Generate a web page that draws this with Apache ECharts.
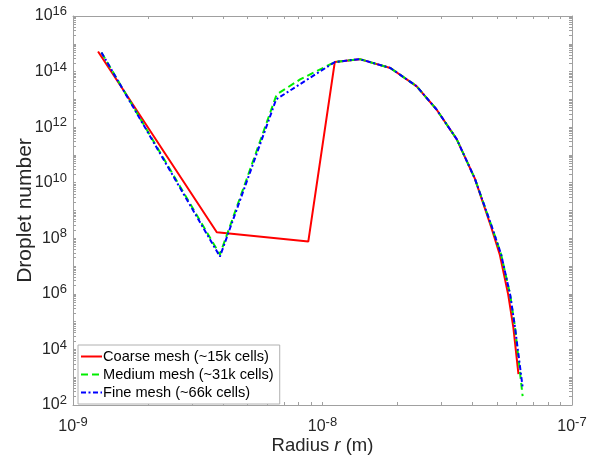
<!DOCTYPE html>
<html>
<head>
<meta charset="utf-8">
<script src="https://cdn.jsdelivr.net/npm/echarts@6/dist/echarts.min.js"></script>
<style>
html,body{margin:0;padding:0;background:#fff;}
#c{width:592px;height:460px;}
</style>
</head>
<body>
<div id="c"></div>
<script>
// ---- data ----
const seriesNames = ['Coarse mesh (~15k cells)', 'Medium mesh (~31k cells)', 'Fine mesh (~66k cells)'];

const coarseR = [1.26e-9, 3.77e-9, 8.77e-9, 1.12e-8, 1.41e-8, 1.87e-8, 2.38e-8, 2.86e-8, 3.45e-8, 4.08e-8, 4.76e-8, 5.14e-8, 5.55e-8, 5.82e-8, 6.10e-8];
const coarseN = [5.3e14, 1.64e8, 7.6e7, 2.2e14, 2.8e14, 1.35e14, 3.0e13, 4.4e12, 3.7e11, 1.4e10, 2.3e8, 2.5e7, 9.4e5, 6.2e4, 1.3e3];

const mediumR = [1.30e-9, 3.88e-9, 6.55e-9, 8.13e-9, 1.12e-8, 1.41e-8, 1.87e-8, 2.38e-8, 2.86e-8, 3.45e-8, 4.08e-8, 4.78e-8, 5.20e-8, 5.65e-8, 5.91e-8, 6.34e-8];
const mediumN = [4.9e14, 2.6e7, 1.5e13, 5.2e13, 2.2e14, 2.8e14, 1.35e14, 3.0e13, 4.4e12, 3.7e11, 1.4e10, 2.5e8, 2.6e7, 9.4e5, 6.2e4, 2.1e2];

const fineR = [1.30e-9, 3.88e-9, 6.52e-9, 1.12e-8, 1.41e-8, 1.87e-8, 2.38e-8, 2.86e-8, 3.45e-8, 4.08e-8, 4.78e-8, 5.20e-8, 5.65e-8, 5.91e-8, 6.34e-8];
const fineN = [4.9e14, 2.2e7, 1.0e13, 2.2e14, 2.8e14, 1.35e14, 3.0e13, 4.4e12, 3.7e11, 1.4e10, 2.5e8, 2.6e7, 9.4e5, 6.2e4, 4.4e2];

const xLabelVals = [1e-9, 1e-8, 1e-7];
const yLabelVals = [1e2, 1e4, 1e6, 1e8, 1e10, 1e12, 1e14, 1e16];
const tickMults = [1, 2, 3, 4, 5, 6, 7, 8, 9];

// ---- build ----
function pairs(xs, ys) { return xs.map((x, i) => [x, ys[i]]); }
const xTicks = [];
[-9, -8].forEach(e => tickMults.forEach(m => xTicks.push(+(m * Math.pow(10, e)).toPrecision(3))));
xTicks.push(1e-7);
const yTicks = [];
for (let e = 2; e < 16; e++) tickMults.forEach(m => yTicks.push(+(m * Math.pow(10, e)).toPrecision(3)));
yTicks.push(1e16);

const FONT = 'Liberation Sans, Arial, sans-serif';
const AX = '#a0a0a0';
const TXT = '#262626';
const supRich = {
  b: { fontSize: 16, color: TXT, fontFamily: FONT },
  s: { fontSize: 13, color: TXT, fontFamily: FONT, padding: [0, 0, 9, 0] }
};
function supFmt(v) {
  const e = Math.round(Math.log10(v));
  return '{b|10}{s|' + e + '}';
}
function xAx(pos, labels) {
  return {
    type: 'log', logBase: 10, min: 1e-9, max: 1e-7, position: pos,
    axisLine: { show: true, onZero: false, lineStyle: { color: AX, width: 1 } },
    axisTick: { show: true, inside: true, length: 3, customValues: xTicks, lineStyle: { color: AX } },
    axisLabel: labels ? { show: true, fontSize: 16, customValues: xLabelVals, formatter: supFmt, rich: supRich, margin: 11 } : { show: false },
    splitLine: { show: false },
    minorTick: { show: false },
    name: labels ? '{n|Radius }{i|r}{n| (m)}' : '',
    nameLocation: 'middle', nameGap: 31, nameMoveOverlap: false,
    nameTextStyle: { rich: { n: { fontSize: 18.5, color: TXT, fontFamily: FONT }, i: { fontSize: 18.5, color: TXT, fontFamily: FONT, fontStyle: 'italic' } } }
  };
}
function yAx(pos, labels) {
  return {
    type: 'log', logBase: 10, min: 1e2, max: 1e16, position: pos,
    axisLine: { show: true, onZero: false, lineStyle: { color: AX, width: 1 } },
    axisTick: { show: true, inside: true, length: 3, customValues: yTicks, lineStyle: { color: AX } },
    axisLabel: labels ? { show: true, fontSize: 16, customValues: yLabelVals, formatter: supFmt, rich: supRich, margin: 6 } : { show: false },
    splitLine: { show: false },
    minorTick: { show: false },
    name: labels ? 'Droplet number' : '',
    nameLocation: 'middle', nameGap: 37, nameRotate: 90, nameMoveOverlap: false,
    nameTextStyle: { fontSize: 21, color: TXT, fontFamily: FONT }
  };
}

const chart = echarts.init(document.getElementById('c'), null, { renderer: 'canvas' });
chart.setOption({
  animation: false,
  backgroundColor: '#fff',
  textStyle: { fontFamily: FONT },
  grid: { left: 73, right: 20, top: 16, bottom: 52, containLabel: false },
  xAxis: [xAx('bottom', true), xAx('top', false)],
  yAxis: [yAx('left', true), yAx('right', false)],
  legend: {
    orient: 'vertical', left: 78, top: 345,
    data: seriesNames,
    backgroundColor: '#fff', borderColor: '#b0b0b0', borderWidth: 1,
    padding: [4, 6, 4, 2], itemGap: 3, itemWidth: 21, itemHeight: 12,
    itemStyle: { opacity: 0 },
    textStyle: { fontSize: 14.6, color: '#000', fontFamily: FONT, padding: [0, 0, 0, -4] }
  },
  series: [
    { name: seriesNames[0], type: 'line', xAxisIndex: 0, yAxisIndex: 0, data: pairs(coarseR, coarseN), symbol: 'none', lineStyle: { color: '#ff0000', width: 2 }, itemStyle: { color: '#ff0000' }, z: 3 },
    { name: seriesNames[1], type: 'line', xAxisIndex: 0, yAxisIndex: 0, data: pairs(mediumR, mediumN), symbol: 'none', lineStyle: { color: '#00ee00', width: 2, type: [7, 4] }, itemStyle: { color: '#00ee00' }, z: 4 },
    { name: seriesNames[2], type: 'line', xAxisIndex: 0, yAxisIndex: 0, data: pairs(fineR, fineN), symbol: 'none', lineStyle: { color: '#0000ff', width: 2, type: [5, 2.5, 2, 2.5] }, itemStyle: { color: '#0000ff' }, z: 5 }
  ]
});
</script>
</body>
</html>
